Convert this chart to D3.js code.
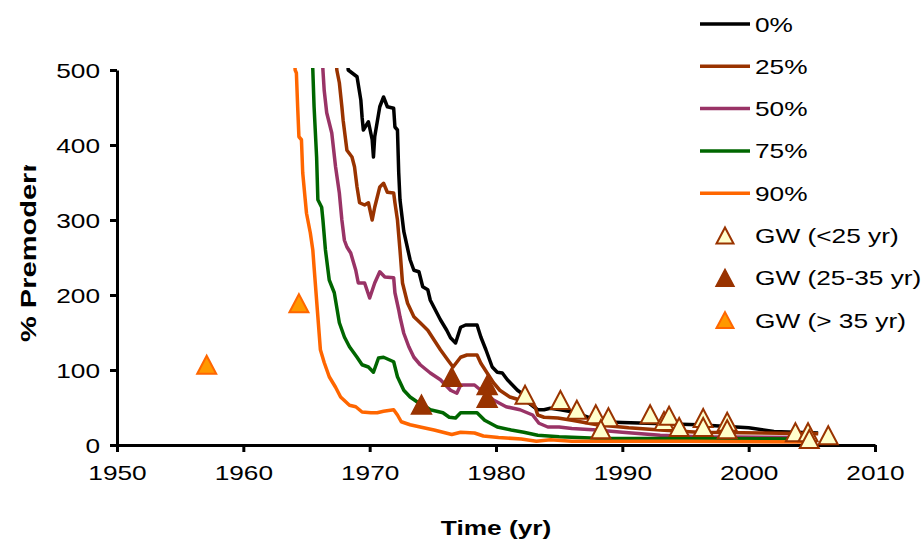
<!DOCTYPE html>
<html>
<head>
<meta charset="utf-8">
<script src="https://cdn.jsdelivr.net/npm/d3@7"></script>
<style>
  html, body { margin: 0; padding: 0; background: #fff; }
  svg text { font-family: "Liberation Sans", Arial, sans-serif; }
</style>
</head>
<body>
<svg id="chart" width="921" height="541"></svg>
<script>
// Premodern percentage over time for five scenarios, plus groundwater samples
const seriesNames = ["0%", "25%", "50%", "75%", "90%"];
const seriesColors = ["#000000", "#993300", "#993366", "#006600", "#ff6600"];

const s0 = [[1968.0,620],[1968.3,500],[1969.0,491],[1969.3,460],[1969.4,437],[1969.5,420],[1969.9,431],[1970.2,407],[1970.3,384],[1970.4,411],[1970.8,451],[1971.1,464],[1971.4,451],[1971.9,449],[1972.0,424],[1972.2,420],[1972.3,363],[1972.4,327],[1972.7,285],[1973.2,247],[1973.5,233],[1973.9,231],[1974.2,211],[1974.6,207],[1974.8,193],[1975.2,180],[1975.6,167],[1976.1,153],[1976.4,143],[1976.8,136],[1977.2,157],[1977.6,160],[1978.5,160],[1978.8,144],[1979.2,127],[1979.7,104],[1980.1,97],[1980.5,96],[1980.9,87],[1981.3,80],[1981.7,73],[1982.2,67],[1982.6,56],[1983.3,47],[1983.8,47],[1984.3,49],[1985.1,47],[1986.1,44],[1988.3,31],[1990,30],[1996,27],[2000,23],[2002,18],[2005.5,16]];
const s25 = [[1967.0,620],[1967.4,500],[1967.6,483],[1967.8,451],[1967.9,433],[1968.2,393],[1968.6,384],[1968.8,371],[1969.0,344],[1969.2,323],[1969.6,320],[1969.9,323],[1970.2,300],[1970.4,317],[1970.8,344],[1971.1,349],[1971.4,337],[1971.9,336],[1972.0,323],[1972.2,300],[1972.4,260],[1972.6,216],[1973.0,189],[1973.5,171],[1974.0,163],[1974.6,153],[1975.1,140],[1975.6,127],[1976.2,113],[1976.6,104],[1977.2,117],[1977.7,120],[1978.5,120],[1978.8,109],[1979.3,96],[1979.8,83],[1980.3,73],[1981.1,64],[1981.9,60],[1982.7,56],[1983.1,51],[1983.3,40],[1983.8,37],[1984.9,36],[1986,33],[1988,27],[1990.5,23],[1993,20],[1996,17],[2005.5,15]];
const s50 = [[1966.0,620],[1966.3,500],[1966.4,473],[1966.6,443],[1967.0,416],[1967.3,371],[1967.6,336],[1967.8,300],[1968.0,273],[1968.2,264],[1968.5,256],[1968.9,233],[1969.1,216],[1969.6,216],[1970.0,196],[1970.4,216],[1970.8,231],[1971.2,224],[1971.9,223],[1972.0,203],[1972.3,180],[1972.4,171],[1972.7,149],[1973.1,131],[1973.5,117],[1974.0,107],[1974.8,96],[1975.6,87],[1976.4,73],[1976.9,69],[1977.2,80],[1978.3,80],[1978.8,73],[1979.8,60],[1980.8,51],[1981.9,47],[1982.9,40],[1983.4,29],[1984.1,24],[1985,24],[1986,22],[1988,20],[1990,17],[1993,13],[1996,11],[2005,10]];
const s75 = [[1965.2,620],[1965.5,500],[1965.6,451],[1965.8,384],[1965.9,327],[1966.2,317],[1966.3,300],[1966.5,260],[1966.8,220],[1967.2,203],[1967.6,163],[1968.0,144],[1968.4,131],[1969.0,117],[1969.4,107],[1969.9,104],[1970.3,97],[1970.7,116],[1971.1,117],[1971.9,111],[1972.2,91],[1972.7,73],[1973.2,64],[1973.8,57],[1974.0,56],[1974.8,47],[1975.8,43],[1976.3,37],[1976.8,36],[1977.2,43],[1978.5,43],[1979.1,33],[1980.1,24],[1981.2,20],[1982.2,17],[1983.3,13],[1985,11],[1988,9],[2004.5,8]];
const s90 = [[1963.8,620],[1964.1,500],[1964.2,496],[1964.3,451],[1964.4,411],[1964.6,407],[1964.7,363],[1964.9,327],[1965.0,309],[1965.3,283],[1965.5,260],[1965.6,237],[1965.9,171],[1966.1,127],[1966.4,110],[1966.8,91],[1967.3,77],[1967.7,64],[1968.4,53],[1968.9,51],[1969.4,44],[1970.1,43],[1970.6,43],[1971.1,45],[1971.9,47],[1972.2,40],[1972.5,31],[1973.2,27],[1974.0,24],[1975.1,20],[1976.5,14],[1977.2,17],[1978.3,16],[1979.0,12],[1980.2,10],[1982,8],[1983.2,5],[1984.3,7],[1986,5],[1995,5],[2004.5,4]];
const seriesData = [s0, s25, s50, s75, s90];

// Groundwater samples by apparent age class: [year, percent]
const gwYoung = [[1982.3,67],[1985.1,60],[1986.4,47],[1987.9,41],[1988.9,37],[1988.3,21],[1992.2,41],[1993.3,32],[1993.7,39],[1994.5,24],[1996.4,36],[1996.4,24],[1998.3,31],[1998.3,21],[2003.7,17],[2004.7,17],[2004.8,8],[2006.3,13]];
const gwMid = [[1974.1,54],[1976.5,91],[1979.3,80],[1979.3,63]];
const gwOld = [[1957.1,107],[1964.4,189]];

const xTicks = [1950, 1960, 1970, 1980, 1990, 2000, 2010];
const yTicks = [0, 100, 200, 300, 400, 500];
const legendLabels = ["0%", "25%", "50%", "75%", "90%", "GW (<25 yr)", "GW (25-35 yr)", "GW (> 35 yr)"];

const svg = d3.select("#chart");
const SX = 1.25;          // horizontal text stretch
const FS = 21;            // font size

const x = d3.scaleLinear().domain([1950, 2010]).range([117, 875]);
const y = d3.scaleLinear().domain([0, 500]).range([445, 70]);

svg.append("defs").append("clipPath").attr("id", "plotClip")
  .append("rect").attr("x", 117).attr("y", 68).attr("width", 760).attr("height", 380);
svg.select("defs").append("clipPath").attr("id", "ylabClip")
  .append("rect").attr("x", 0).attr("y", 165).attr("width", 60).attr("height", 300);

// Lines
const line = d3.line().x(d => x(d[0])).y(d => y(d[1]));
const lines = svg.append("g").attr("clip-path", "url(#plotClip)");
seriesData.forEach((s, i) => {
  lines.append("path").attr("d", line(s)).attr("fill", "none")
    .attr("stroke", seriesColors[i]).attr("stroke-width", 3.5)
    .attr("stroke-linejoin", "round");
});

// Axes
const yAxis = svg.append("g").attr("transform", `translate(${x(1950)},0)`)
  .call(d3.axisLeft(y).tickValues(yTicks).tickSize(7).tickSizeOuter(0));
const xAxis = svg.append("g").attr("transform", `translate(0,${y(0)})`)
  .call(d3.axisBottom(x).tickValues(xTicks).tickFormat(d3.format("d")).tickSize(7).tickSizeOuter(0));
[yAxis, xAxis].forEach(a => {
  a.select(".domain").attr("stroke", "#000").attr("stroke-width", 3);
  a.selectAll(".tick line").attr("stroke", "#000").attr("stroke-width", 3);
  a.selectAll(".tick text").attr("fill", "#000").style("font-size", FS + "px")
    .style("font-family", '"Liberation Sans", Arial, sans-serif');
});
yAxis.selectAll(".tick text").attr("x", -17 / SX).attr("dy", "0.36em")
  .attr("transform", `scale(${SX},1)`);
xAxis.selectAll(".tick text").attr("y", 20).attr("dy", "0.71em")
  .attr("transform", `scale(${SX},1)`);

// Axis titles
svg.append("g").attr("transform", `translate(${x(1980)},527)`)
  .append("text").attr("transform", `scale(${SX},1)`).attr("text-anchor", "middle")
  .attr("dy", "0.36em").style("font-size", FS + "px").style("font-weight", "bold")
  .text("Time (yr)");
svg.append("g").attr("clip-path", "url(#ylabClip)")
  .append("g").attr("transform", "translate(28,342) rotate(-90)")
  .append("text").attr("transform", "scale(1.32,1)").attr("text-anchor", "start")
  .attr("dy", "0.36em").style("font-size", "22px").style("font-weight", "bold")
  .text("% Premodern");

// Triangle marker centred on its bounding box
const tri = (w, h) => `M0,${-h / 2}L${w / 2},${h / 2}L${-w / 2},${h / 2}Z`;
const markerStyles = [
  { data: gwYoung, fill: "#ffffcc", stroke: "#993300", w: 19, h: 18, sw: 2 },
  { data: gwMid, fill: "#993300", stroke: "#993300", w: 20, h: 19, sw: 1.5 },
  { data: gwOld, fill: "#ff9900", stroke: "#ff6600", w: 19, h: 18, sw: 2 }
];
const markers = svg.append("g");
markerStyles.forEach(m => {
  markers.selectAll(null).data(m.data).enter().append("path")
    .attr("d", tri(m.w, m.h))
    .attr("transform", d => `translate(${x(d[0])},${y(d[1])})`)
    .attr("fill", m.fill).attr("stroke", m.stroke).attr("stroke-width", m.sw)
    .attr("stroke-linejoin", "miter");
});

// Legend
const legend = svg.append("g");
const legY = i => 24 + i * 42.3;
seriesNames.forEach((n, i) => {
  legend.append("line").attr("x1", 700).attr("x2", 750).attr("y1", legY(i)).attr("y2", legY(i))
    .attr("stroke", seriesColors[i]).attr("stroke-width", 3.5);
});
markerStyles.forEach((m, j) => {
  legend.append("path").attr("d", tri(m.w - 2, m.h - 2))
    .attr("transform", `translate(725,${legY(5 + j)})`)
    .attr("fill", m.fill).attr("stroke", m.stroke).attr("stroke-width", m.sw);
});
legendLabels.forEach((t, i) => {
  legend.append("g").attr("transform", `translate(755,${legY(i)})`)
    .append("text").attr("transform", `scale(${SX},1)`).attr("dy", "0.36em")
    .style("font-size", FS + "px").attr("fill", "#000").text(t);
});
</script>
</body>
</html>
